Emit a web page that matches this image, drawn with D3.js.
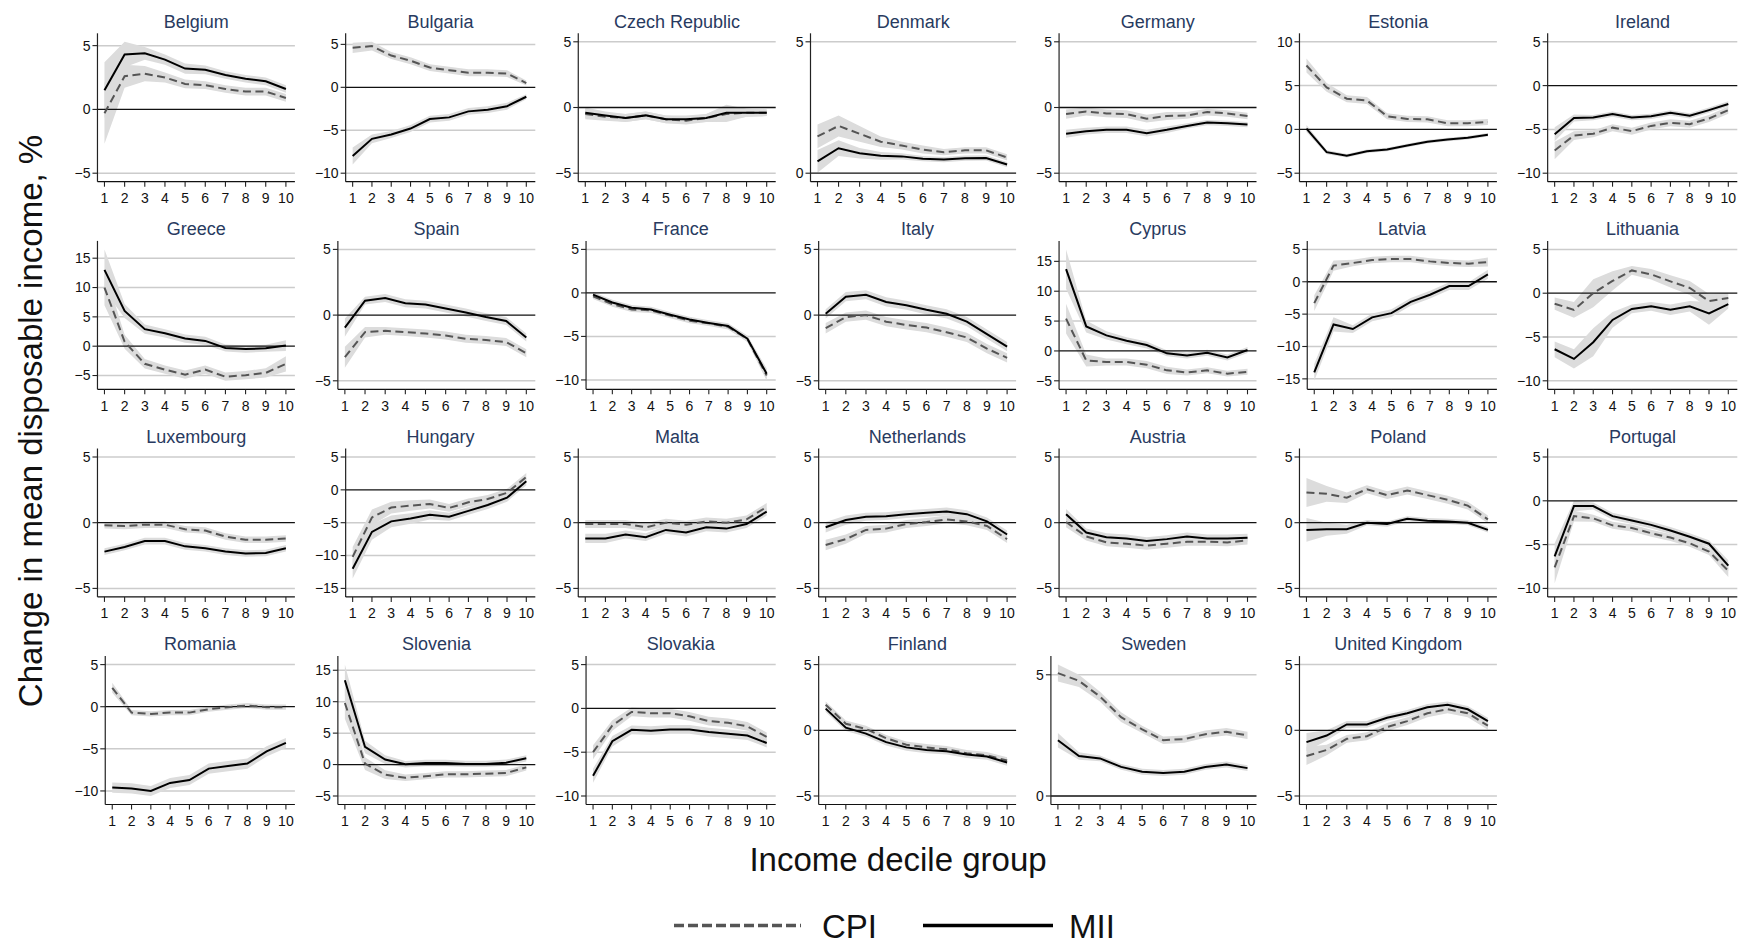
<!DOCTYPE html>
<html>
<head>
<meta charset="utf-8">
<script src="https://cdn.jsdelivr.net/npm/d3@7"></script>
<style>
  body { margin: 0; background: #fff; }
  svg { display: block; }
  text { font-family: "Liberation Sans", Arial, sans-serif; }
</style>
</head>
<body>
<svg id="chart" width="1738" height="943"></svg>
<script>
// ---- data ---------------------------------------------------------------
const countries = [
  "Belgium", "Bulgaria", "Czech Republic", "Denmark", "Germany", "Estonia", "Ireland",
  "Greece", "Spain", "France", "Italy", "Cyprus", "Latvia", "Lithuania",
  "Luxembourg", "Hungary", "Malta", "Netherlands", "Austria", "Poland", "Portugal",
  "Romania", "Slovenia", "Slovakia", "Finland", "Sweden", "United Kingdom"
];

const deciles = [1, 2, 3, 4, 5, 6, 7, 8, 9, 10];

const yTicks = [
  [-5, 0, 5], [-10, -5, 0, 5], [-5, 0, 5], [0, 5], [-5, 0, 5], [-5, 0, 5, 10], [-10, -5, 0, 5],
  [-5, 0, 5, 10, 15], [-5, 0, 5], [-10, -5, 0, 5], [-5, 0, 5], [-5, 0, 5, 10, 15], [-15, -10, -5, 0, 5], [-10, -5, 0, 5],
  [-5, 0, 5], [-15, -10, -5, 0, 5], [-5, 0, 5], [-5, 0, 5], [-5, 0, 5], [-5, 0, 5], [-10, -5, 0, 5],
  [-10, -5, 0, 5], [-5, 0, 5, 10, 15], [-10, -5, 0, 5], [-5, 0, 5], [0, 5], [-5, 0, 5]
];

// CPI-based change (dashed), by decile
const cpiMean = [
  [-0.3, 2.6, 2.8, 2.5, 2.0, 1.9, 1.6, 1.4, 1.4, 0.9],
  [4.6, 4.8, 3.7, 3.1, 2.3, 2.0, 1.7, 1.7, 1.6, 0.5],
  [-0.5, -0.7, -0.8, -0.6, -0.9, -1.0, -0.8, -0.5, -0.4, -0.4],
  [1.4, 1.8, 1.5, 1.2, 1.05, 0.9, 0.8, 0.87, 0.87, 0.6],
  [-0.5, -0.3, -0.45, -0.5, -0.85, -0.65, -0.6, -0.35, -0.45, -0.65],
  [7.3, 4.8, 3.5, 3.3, 1.5, 1.2, 1.15, 0.7, 0.7, 0.85],
  [-7.4, -5.7, -5.5, -4.8, -5.2, -4.6, -4.25, -4.4, -3.75, -2.8],
  [10.0, 0.75, -3.0, -4.0, -4.85, -4.0, -5.2, -4.95, -4.55, -3.0],
  [-3.2, -1.3, -1.2, -1.3, -1.4, -1.55, -1.8, -1.9, -2.05, -2.9],
  [-0.4, -1.3, -1.9, -2.0, -2.6, -3.2, -3.5, -3.9, -5.3, -9.5],
  [-1.0, -0.15, 0.0, -0.5, -0.75, -0.95, -1.3, -1.7, -2.55, -3.25],
  [5.4, -1.6, -1.85, -1.85, -2.3, -3.25, -3.6, -3.25, -3.8, -3.5],
  [-3.3, 2.5, 2.9, 3.35, 3.5, 3.5, 3.15, 2.9, 2.8, 3.05],
  [-1.2, -1.9, 0.0, 1.4, 2.6, 2.15, 1.35, 0.6, -0.9, -0.55],
  [-0.2, -0.25, -0.15, -0.15, -0.5, -0.6, -1.05, -1.3, -1.3, -1.2],
  [-10.2, -4.2, -2.7, -2.4, -2.15, -2.75, -1.9, -1.4, -0.45, 1.95],
  [-0.1, -0.1, -0.1, -0.35, 0.0, -0.15, 0.1, 0.0, 0.25, 1.2],
  [-1.7, -1.25, -0.55, -0.45, -0.1, 0.05, 0.25, 0.1, -0.25, -1.25],
  [0.05, -1.05, -1.5, -1.6, -1.75, -1.6, -1.45, -1.45, -1.5, -1.35],
  [2.3, 2.2, 1.9, 2.55, 2.1, 2.45, 2.1, 1.75, 1.3, 0.25],
  [-7.6, -1.75, -2.0, -2.8, -3.1, -3.7, -4.2, -4.85, -5.8, -8.0],
  [2.25, -0.7, -0.85, -0.7, -0.7, -0.3, -0.05, 0.15, -0.05, -0.05],
  [9.8, 0.15, -1.6, -2.1, -1.85, -1.55, -1.55, -1.45, -1.35, -0.45],
  [-5.0, -1.95, -0.4, -0.55, -0.55, -0.9, -1.45, -1.65, -2.05, -3.25],
  [1.95, 0.5, 0.1, -0.6, -1.1, -1.3, -1.45, -1.75, -1.9, -2.3],
  [5.07, 4.75, 4.1, 3.25, 2.75, 2.3, 2.35, 2.55, 2.65, 2.5],
  [-1.95, -1.5, -0.65, -0.45, 0.25, 0.7, 1.3, 1.6, 1.3, 0.35]
];

// half-width of the CPI confidence band
const cpiHalfCI = [
  [2.4, 0.9, 0.6, 0.4, 0.35, 0.3, 0.3, 0.3, 0.3, 0.3],
  [0.6, 0.5, 0.4, 0.4, 0.4, 0.4, 0.4, 0.4, 0.4, 0.3],
  [0.4, 0.3, 0.3, 0.3, 0.3, 0.3, 0.3, 0.6, 0.3, 0.25],
  [0.45, 0.4, 0.3, 0.2, 0.15, 0.15, 0.12, 0.12, 0.12, 0.12],
  [0.35, 0.3, 0.3, 0.3, 0.3, 0.3, 0.25, 0.25, 0.25, 0.25],
  [0.8, 0.5, 0.4, 0.4, 0.35, 0.35, 0.35, 0.35, 0.35, 0.35],
  [1.0, 0.5, 0.4, 0.4, 0.4, 0.4, 0.4, 0.4, 0.4, 0.4],
  [3.0, 1.2, 0.8, 0.7, 0.7, 0.7, 0.7, 0.7, 0.8, 1.3],
  [0.8, 0.4, 0.3, 0.3, 0.3, 0.3, 0.3, 0.3, 0.3, 0.3],
  [0.3, 0.3, 0.3, 0.3, 0.3, 0.3, 0.3, 0.3, 0.35, 0.6],
  [0.4, 0.35, 0.35, 0.35, 0.35, 0.35, 0.35, 0.35, 0.35, 0.35],
  [2.5, 1.0, 0.6, 0.6, 0.6, 0.6, 0.5, 0.5, 0.5, 0.5],
  [1.2, 0.8, 0.5, 0.5, 0.5, 0.5, 0.5, 0.5, 0.5, 0.7],
  [0.7, 0.9, 1.6, 1.1, 0.5, 0.6, 0.7, 0.8, 0.8, 0.6],
  [0.25, 0.25, 0.25, 0.25, 0.25, 0.25, 0.25, 0.25, 0.25, 0.25],
  [1.5, 1.2, 0.9, 0.8, 0.7, 0.6, 0.6, 0.6, 0.6, 0.6],
  [0.3, 0.3, 0.3, 0.3, 0.3, 0.3, 0.3, 0.3, 0.3, 0.3],
  [0.4, 0.35, 0.3, 0.3, 0.3, 0.3, 0.3, 0.3, 0.3, 0.3],
  [0.4, 0.3, 0.3, 0.3, 0.3, 0.3, 0.3, 0.3, 0.3, 0.3],
  [1.1, 0.6, 0.4, 0.3, 0.3, 0.3, 0.3, 0.3, 0.3, 0.3],
  [1.8, 0.6, 0.4, 0.4, 0.4, 0.4, 0.4, 0.4, 0.4, 0.7],
  [0.6, 0.3, 0.3, 0.3, 0.3, 0.3, 0.3, 0.3, 0.3, 0.3],
  [2.5, 1.0, 0.7, 0.5, 0.5, 0.5, 0.5, 0.5, 0.5, 0.5],
  [0.8, 0.6, 0.5, 0.5, 0.5, 0.5, 0.5, 0.5, 0.5, 0.5],
  [0.25, 0.25, 0.25, 0.25, 0.25, 0.25, 0.25, 0.25, 0.25, 0.25],
  [0.35, 0.25, 0.2, 0.2, 0.15, 0.15, 0.15, 0.15, 0.15, 0.15],
  [0.7, 0.4, 0.3, 0.3, 0.3, 0.3, 0.3, 0.3, 0.3, 0.3]
];

// MII-based change (solid), by decile
const miiMean = [
  [1.5, 4.3, 4.4, 3.9, 3.2, 3.1, 2.7, 2.4, 2.2, 1.6],
  [-8.0, -6.0, -5.5, -4.8, -3.7, -3.5, -2.8, -2.6, -2.2, -1.1],
  [-0.4, -0.6, -0.8, -0.6, -0.9, -0.9, -0.8, -0.4, -0.4, -0.4],
  [0.45, 0.95, 0.76, 0.66, 0.64, 0.55, 0.52, 0.57, 0.58, 0.33],
  [-2.0, -1.8, -1.7, -1.7, -1.95, -1.7, -1.4, -1.15, -1.2, -1.3],
  [0.1, -2.6, -3.0, -2.5, -2.3, -1.85, -1.4, -1.15, -0.95, -0.6],
  [-5.55, -3.7, -3.65, -3.25, -3.65, -3.5, -3.1, -3.45, -2.8, -2.1],
  [13.0, 6.0, 2.9, 2.2, 1.3, 0.9, -0.3, -0.5, -0.35, 0.1],
  [-0.95, 1.1, 1.3, 0.9, 0.8, 0.5, 0.2, -0.15, -0.45, -1.7],
  [-0.2, -1.1, -1.7, -1.9, -2.5, -3.05, -3.45, -3.8, -5.25, -9.3],
  [0.1, 1.4, 1.55, 1.0, 0.75, 0.4, 0.1, -0.5, -1.45, -2.4],
  [13.7, 4.1, 2.6, 1.7, 1.0, -0.4, -0.75, -0.3, -1.1, 0.15],
  [-14.0, -6.6, -7.3, -5.5, -4.85, -3.1, -2.0, -0.67, -0.67, 1.15],
  [-6.4, -7.5, -5.6, -3.05, -1.8, -1.5, -1.9, -1.5, -2.3, -1.25],
  [-2.2, -1.85, -1.4, -1.4, -1.8, -1.95, -2.2, -2.35, -2.3, -1.95],
  [-12.0, -6.4, -4.8, -4.35, -3.8, -4.1, -3.2, -2.3, -1.2, 1.3],
  [-1.2, -1.2, -0.9, -1.1, -0.55, -0.75, -0.35, -0.45, -0.1, 0.85],
  [-0.35, 0.2, 0.45, 0.5, 0.65, 0.75, 0.85, 0.65, 0.1, -0.9],
  [0.65, -0.75, -1.1, -1.2, -1.4, -1.25, -1.05, -1.2, -1.2, -1.15],
  [-0.55, -0.5, -0.5, 0.0, -0.1, 0.3, 0.15, 0.1, 0.0, -0.55],
  [-6.35, -0.6, -0.6, -1.75, -2.25, -2.75, -3.4, -4.1, -4.9, -7.4],
  [-9.6, -9.7, -10.0, -9.05, -8.7, -7.35, -7.05, -6.75, -5.3, -4.3],
  [13.4, 2.8, 0.8, 0.05, 0.25, 0.25, 0.1, 0.1, 0.3, 1.0],
  [-7.7, -3.75, -2.45, -2.55, -2.4, -2.4, -2.7, -2.9, -3.1, -3.95],
  [1.65, 0.2, -0.25, -0.9, -1.3, -1.5, -1.6, -1.85, -2.0, -2.45],
  [2.3, 1.65, 1.55, 1.2, 1.0, 0.95, 1.0, 1.2, 1.3, 1.15],
  [-0.9, -0.4, 0.45, 0.45, 0.95, 1.3, 1.75, 1.95, 1.6, 0.7]
];

// half-width of the MII confidence band
const miiHalfCI = [
  [2.2, 1.0, 0.5, 0.4, 0.4, 0.35, 0.3, 0.3, 0.3, 0.3],
  [1.0, 0.5, 0.4, 0.4, 0.4, 0.4, 0.4, 0.4, 0.4, 0.3],
  [0.4, 0.3, 0.3, 0.3, 0.3, 0.3, 0.3, 0.6, 0.3, 0.25],
  [0.43, 0.3, 0.2, 0.15, 0.12, 0.1, 0.1, 0.1, 0.1, 0.1],
  [0.3, 0.25, 0.25, 0.25, 0.25, 0.25, 0.2, 0.2, 0.2, 0.2],
  [0.4, 0.25, 0.2, 0.2, 0.2, 0.2, 0.2, 0.2, 0.2, 0.2],
  [0.8, 0.4, 0.3, 0.3, 0.3, 0.3, 0.3, 0.3, 0.3, 0.3],
  [3.5, 1.2, 0.8, 0.7, 0.7, 0.7, 0.6, 0.6, 0.6, 0.9],
  [0.7, 0.3, 0.3, 0.3, 0.3, 0.3, 0.3, 0.3, 0.3, 0.3],
  [0.3, 0.3, 0.3, 0.3, 0.3, 0.3, 0.3, 0.3, 0.35, 0.6],
  [0.35, 0.35, 0.35, 0.35, 0.35, 0.35, 0.35, 0.35, 0.35, 0.35],
  [3.3, 1.0, 0.7, 0.6, 0.6, 0.5, 0.5, 0.5, 0.5, 0.5],
  [1.3, 1.1, 0.6, 0.6, 0.6, 0.6, 0.6, 0.6, 0.6, 0.7],
  [0.9, 1.1, 1.6, 0.9, 0.5, 0.5, 0.6, 0.6, 1.3, 0.5],
  [0.25, 0.25, 0.25, 0.25, 0.25, 0.25, 0.25, 0.25, 0.25, 0.25],
  [1.5, 1.2, 0.9, 0.8, 0.7, 0.6, 0.6, 0.6, 0.6, 0.6],
  [0.35, 0.35, 0.3, 0.3, 0.3, 0.3, 0.3, 0.3, 0.3, 0.3],
  [0.4, 0.35, 0.3, 0.3, 0.3, 0.3, 0.3, 0.3, 0.3, 0.3],
  [0.4, 0.3, 0.3, 0.3, 0.3, 0.3, 0.3, 0.3, 0.3, 0.3],
  [0.9, 0.5, 0.35, 0.2, 0.2, 0.2, 0.2, 0.2, 0.2, 0.2],
  [1.5, 0.6, 0.4, 0.4, 0.4, 0.4, 0.4, 0.4, 0.4, 0.6],
  [0.6, 0.6, 0.6, 0.6, 0.6, 0.6, 0.6, 0.6, 0.6, 0.6],
  [2.5, 1.0, 0.7, 0.5, 0.5, 0.5, 0.5, 0.5, 0.5, 0.5],
  [0.8, 0.6, 0.5, 0.5, 0.5, 0.5, 0.5, 0.5, 0.5, 0.5],
  [0.25, 0.25, 0.25, 0.25, 0.25, 0.25, 0.25, 0.25, 0.25, 0.25],
  [0.3, 0.15, 0.12, 0.12, 0.12, 0.12, 0.12, 0.12, 0.12, 0.12],
  [0.7, 0.4, 0.25, 0.25, 0.25, 0.25, 0.25, 0.25, 0.25, 0.25]
];

const legendLabels = ["CPI", "MII"];

// ---- layout -------------------------------------------------------------
const svg = d3.select("#chart");
const nCols = 7;
const gridLeft = 54.5, cellW = 240.4, rowH = 207.6;
const plotTop = 33.3, plotBottom = 181.7, inner = 8.5;
const titleBase = 27.5, xLabelBase = 203;
const tickFont = 14, titleFont = 18;

const titleColor = "#283a60";
const gridColor = "#cccccc";
const bandColor = "#dcdcdc";
const cpiColor = "#555555";

countries.forEach((name, i) => {
  const r = Math.floor(i / nCols), c = i % nCols;
  const oy = r * rowH;
  const cellRight = gridLeft + (c + 1) * cellW;
  const cellLeft = cellRight - cellW;
  const g = svg.append("g");

  const ticks = yTicks[i];
  const lows = cpiMean[i].map((v, k) => v - cpiHalfCI[i][k]).concat(miiMean[i].map((v, k) => v - miiHalfCI[i][k]));
  const highs = cpiMean[i].map((v, k) => v + cpiHalfCI[i][k]).concat(miiMean[i].map((v, k) => v + miiHalfCI[i][k]));
  const lo = Math.min(d3.min(ticks), d3.min(lows));
  const hi = Math.max(d3.max(ticks), d3.max(highs));
  const y = d3.scale ? null : null;
  const yScale = d3.scaleLinear().domain([lo, hi]).range([oy + plotBottom - inner, oy + plotTop + inner]);

  // y tick labels first, so the axis can sit just right of the widest label
  const labelG = g.append("g");
  const labels = labelG.selectAll("text").data(ticks).join("text")
    .attr("font-size", tickFont).attr("fill", "#111")
    .attr("text-anchor", "end").attr("dy", "0.35em")
    .attr("y", d => yScale(d))
    .text(d => d3.format("d")(d));
  let maxW = 0;
  labels.each(function () { maxW = Math.max(maxW, this.getComputedTextLength()); });
  const axisX = cellLeft + 19 + maxW + 8;
  labels.attr("x", axisX - 7);

  const xScale = d3.scaleLinear().domain([1, 10]).range([axisX + 7, cellRight - 9]);

  // horizontal grid at non-zero ticks
  g.append("g").selectAll("line").data(ticks.filter(t => t !== 0)).join("line")
    .attr("x1", axisX).attr("x2", cellRight)
    .attr("y1", d => yScale(d)).attr("y2", d => yScale(d))
    .attr("stroke", gridColor).attr("stroke-width", 1.5);

  // confidence bands
  const band = (mean, half) => d3.area()
    .x((d, k) => xScale(deciles[k]))
    .y0((d, k) => yScale(mean[k] - half[k]))
    .y1((d, k) => yScale(mean[k] + half[k]))(deciles);
  g.append("path").attr("d", band(cpiMean[i], cpiHalfCI[i])).attr("fill", bandColor);
  g.append("path").attr("d", band(miiMean[i], miiHalfCI[i])).attr("fill", bandColor);

  // zero reference line
  g.append("line").attr("x1", axisX).attr("x2", cellRight)
    .attr("y1", yScale(0)).attr("y2", yScale(0))
    .attr("stroke", "#111").attr("stroke-width", 1.3);

  const line = vals => d3.line().x((d, k) => xScale(deciles[k])).y((d, k) => yScale(vals[k]))(deciles);
  g.append("path").attr("d", line(cpiMean[i])).attr("fill", "none")
    .attr("stroke", cpiColor).attr("stroke-width", 2).attr("stroke-dasharray", "8,4.5");
  g.append("path").attr("d", line(miiMean[i])).attr("fill", "none")
    .attr("stroke", "#000").attr("stroke-width", 2);

  // axes
  g.append("line").attr("x1", axisX).attr("x2", axisX)
    .attr("y1", oy + plotTop).attr("y2", oy + plotBottom)
    .attr("stroke", "#222").attr("stroke-width", 1.2);
  g.append("line").attr("x1", axisX).attr("x2", cellRight)
    .attr("y1", oy + plotBottom).attr("y2", oy + plotBottom)
    .attr("stroke", "#111").attr("stroke-width", 1.2);
  g.append("g").selectAll("line").data(ticks).join("line")
    .attr("x1", axisX - 5).attr("x2", axisX)
    .attr("y1", d => yScale(d)).attr("y2", d => yScale(d))
    .attr("stroke", "#222").attr("stroke-width", 1.1);
  g.append("g").selectAll("line").data(deciles).join("line")
    .attr("x1", d => xScale(d)).attr("x2", d => xScale(d))
    .attr("y1", oy + plotBottom).attr("y2", oy + plotBottom + 5)
    .attr("stroke", "#222").attr("stroke-width", 1.1);
  g.append("g").selectAll("text").data(deciles).join("text")
    .attr("font-size", tickFont).attr("fill", "#111").attr("text-anchor", "middle")
    .attr("x", d => xScale(d)).attr("y", oy + xLabelBase)
    .text(d => d);

  // panel title
  g.append("text").attr("x", (axisX + cellRight) / 2).attr("y", oy + titleBase)
    .attr("text-anchor", "middle").attr("font-size", titleFont).attr("fill", titleColor)
    .text(name);
});

// shared axis titles
svg.append("text").attr("x", 898).attr("y", 871)
  .attr("text-anchor", "middle").attr("font-size", 33).attr("fill", "#111")
  .text("Income decile group");
svg.append("text").attr("transform", "translate(42,421) rotate(-90)")
  .attr("text-anchor", "middle").attr("font-size", 33).attr("fill", "#111")
  .text("Change in mean disposable income, %");

// legend
const legendY = 925.5;
svg.append("line").attr("x1", 674).attr("x2", 801).attr("y1", legendY).attr("y2", legendY)
  .attr("stroke", cpiColor).attr("stroke-width", 3.5).attr("stroke-dasharray", "10,4");
svg.append("text").attr("x", 822).attr("y", legendY + 12).attr("font-size", 33).attr("fill", "#111")
  .text(legendLabels[0]);
svg.append("line").attr("x1", 923).attr("x2", 1053).attr("y1", legendY).attr("y2", legendY)
  .attr("stroke", "#000").attr("stroke-width", 3.5);
svg.append("text").attr("x", 1069).attr("y", legendY + 12).attr("font-size", 33).attr("fill", "#111")
  .text(legendLabels[1]);
</script>
</body>
</html>
